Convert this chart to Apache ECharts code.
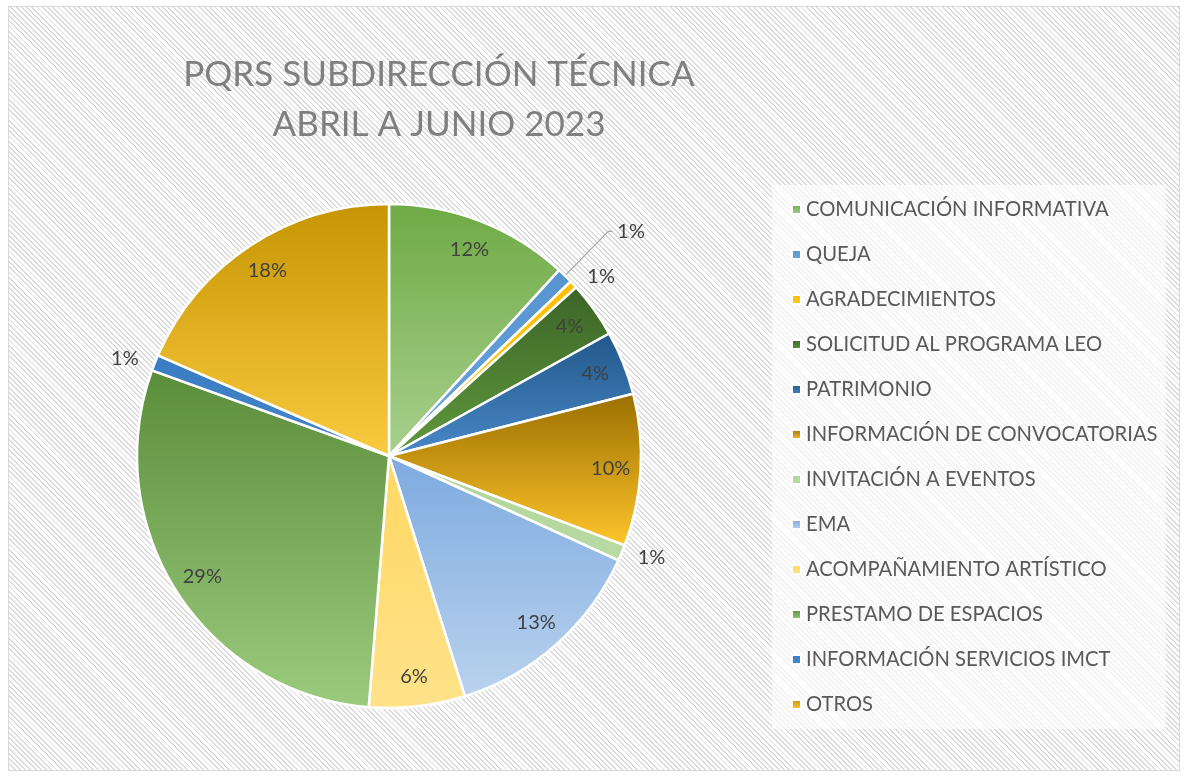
<!DOCTYPE html>
<html lang="es">
<head>
<meta charset="UTF-8">
<title>PQRS Subdirección Técnica</title>
<script src="https://cdn.jsdelivr.net/npm/echarts@6/dist/echarts.min.js"></script>
<style>
    html, body { margin: 0; padding: 0; background: #fff; }
    #wrap { position: relative; width: 1184px; height: 776px; }
    #bg {
        position: absolute; left: 8px; top: 6px; width: 1170px; height: 763px;
        border: 1px solid #d9d9d9;
        background: repeating-linear-gradient(45deg, #dadada 0 1.3px, #ffffff 1.3px 3.7px);
    }
    #chart { position: absolute; left: 0; top: 0; width: 1184px; height: 776px; }
</style>
</head>
<body>
<div id="wrap">
    <div id="bg"></div>
    <div id="chart"></div>
</div>
<script type="text/javascript">
    // datos
    var categorias = [
        'COMUNICACIÓN INFORMATIVA',
        'QUEJA',
        'AGRADECIMIENTOS',
        'SOLICITUD AL PROGRAMA LEO',
        'PATRIMONIO',
        'INFORMACIÓN DE CONVOCATORIAS',
        'INVITACIÓN A EVENTOS',
        'EMA',
        'ACOMPAÑAMIENTO ARTÍSTICO',
        'PRESTAMO DE ESPACIOS',
        'INFORMACIÓN SERVICIOS IMCT',
        'OTROS'
    ];
    var cantidades = [23, 2, 1, 7, 8, 19, 2, 26, 12, 57, 2, 36];

    // degradados (arriba, abajo)
    var colores = [
        ['#6EAA45', '#A9D08E'],
        ['#5593D0', '#6FA7DD'],
        ['#FFBE00', '#FFC72C'],
        ['#3C6427', '#609A3D'],
        ['#215889', '#4A88C8'],
        ['#9A6F00', '#FFC52B'],
        ['#AFD497', '#B9DBA4'],
        ['#7DAAE0', '#BAD3EE'],
        ['#FFD862', '#FFE28A'],
        ['#5A8D3A', '#9CCB7E'],
        ['#3A7CC3', '#4586CC'],
        ['#C69503', '#FACA40']
    ];

    var fuente = 'Lato';
    var total = cantidades.reduce(function (a, b) { return a + b; }, 0);

    function pct(v) {
        return Math.round(v / total * 100);
    }

    function degradado(i) {
        return new echarts.graphic.LinearGradient(0, 0, 0, 1, [
            {offset: 0, color: colores[i][0]},
            {offset: 1, color: colores[i][1]}
        ]);
    }

    // las porciones pequeñas llevan etiqueta afuera
    function esPequena(v) {
        return v / total < 0.02;
    }

    var datosPie = categorias.map(function (n, i) {
        var chica = esPequena(cantidades[i]);
        var item = {
            name: n,
            value: cantidades[i],
            itemStyle: {color: degradado(i)},
            label: {show: chica},
            labelLine: {show: false, length: 12, length2: 0}
        };
        if (i === 1) {
            item.labelLine = {show: true, length: 62, length2: 4};
        }
        return item;
    });

    var datosEtiquetas = categorias.map(function (n, i) {
        return {
            name: n,
            value: cantidades[i],
            label: {show: !esPequena(cantidades[i])}
        };
    });

    var myChart = echarts.init(document.getElementById('chart'));

    var option = {
        backgroundColor: 'transparent',
        animation: false,
        title: {
            text: 'PQRS SUBDIRECCIÓN TÉCNICA\nABRIL A JUNIO 2023',
            left: 434,
            top: 45,
            textAlign: 'center',
            textStyle: {
                fontFamily: fuente,
                fontSize: 35,
                fontWeight: 'normal',
                color: '#7f7f7f',
                lineHeight: 50
            }
        },
        legend: {
            orient: 'vertical',
            left: 772,
            top: 185,
            padding: [14, 8, 14, 19],
            backgroundColor: 'rgba(255,255,255,0.62)',
            icon: 'rect',
            itemWidth: 9,
            itemHeight: 9,
            itemGap: 24,
            data: categorias,
            textStyle: {
                fontFamily: fuente,
                fontSize: 20.2,
                color: '#595959',
                lineHeight: 21
            }
        },
        series: [
            {
                type: 'pie',
                name: 'PQRS',
                center: [389, 456],
                radius: 252,
                startAngle: 90,
                clockwise: true,
                avoidLabelOverlap: true,
                emphasis: {disabled: true},
                itemStyle: {borderColor: '#ffffff', borderWidth: 2.5},
                label: {
                    position: 'outside',
                    fontFamily: fuente,
                    fontSize: 20,
                    color: '#404040',
                    formatter: function (p) { return pct(p.value) + '%'; }
                },
                labelLine: {
                    lineStyle: {color: '#a6a6a6', width: 1.2}
                },
                data: datosPie
            },
            {
                // solo etiquetas internas, mas cerca del borde
                type: 'pie',
                name: 'etiquetas',
                center: [389, 456],
                radius: [186, 252],
                startAngle: 90,
                clockwise: true,
                silent: true,
                emphasis: {disabled: true},
                itemStyle: {color: 'rgba(0,0,0,0)', borderWidth: 0},
                label: {
                    position: 'inside',
                    fontFamily: fuente,
                    fontSize: 20,
                    color: '#404040',
                    formatter: function (p) { return pct(p.value) + '%'; }
                },
                labelLine: {show: false},
                data: datosEtiquetas
            }
        ]
    };
    myChart.setOption(option);
</script>
</body>
</html>
